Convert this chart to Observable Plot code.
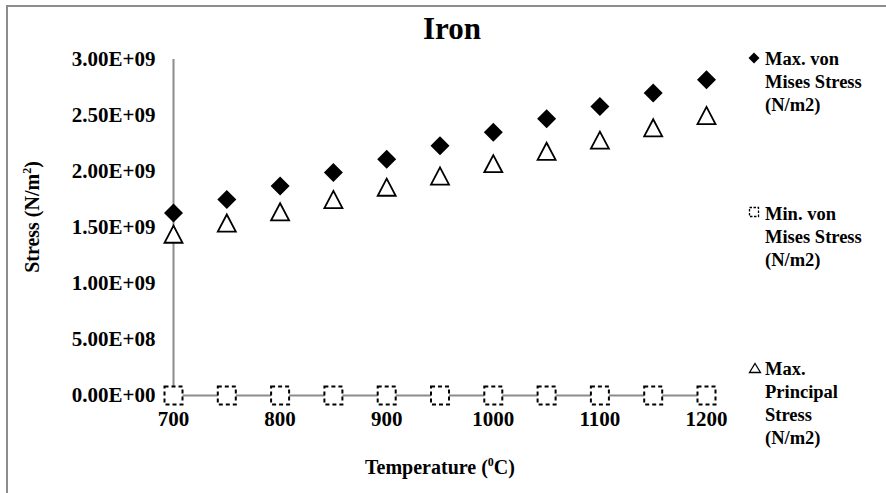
<!DOCTYPE html>
<html><head><meta charset="utf-8">
<script src="https://cdn.jsdelivr.net/npm/d3@7"></script>
<script src="https://cdn.jsdelivr.net/npm/@observablehq/plot@0.6"></script>
<style>
body{margin:0;background:#fff;}
#chart{position:relative;width:886px;height:493px;font-family:"Liberation Serif","Times New Roman",serif;font-weight:bold;color:#000;overflow:hidden;background:#fff}
#chart svg.plot{position:absolute;left:0;top:0}
.frame{position:absolute;left:6px;top:5px;width:884px;height:492px;border-left:2px solid #8c8c8c;border-top:2px solid #8c8c8c;box-sizing:border-box}
.title{position:absolute;left:452px;top:44px;transform:translate(-50%,-100%);font-size:31px;line-height:31px;white-space:nowrap}
.xtitle{position:absolute;left:440px;top:474px;transform:translate(-50%,-80%);font-size:20px;white-space:nowrap}
.ytitle{position:absolute;left:32px;top:217px;transform:translate(-50%,-50%) rotate(-90deg);font-size:20px;white-space:nowrap}
sup{font-size:0.6em;vertical-align:0.6em;line-height:0}
.leg{position:absolute;left:765px;font-size:18.5px;line-height:23px;white-space:nowrap}
svg.lm{position:absolute;left:0;top:0;pointer-events:none}
</style>
</head><body>
<div id="chart"></div>
<script>
const temps = [700, 750, 800, 850, 900, 950, 1000, 1050, 1100, 1150, 1200];
const maxVonMises = [1.63e9, 1.75e9, 1.87e9, 1.99e9, 2.11e9, 2.23e9, 2.35e9, 2.47e9, 2.58e9, 2.70e9, 2.82e9];
const minVonMises = [0, 0, 0, 0, 0, 0, 0, 0, 0, 0, 0];
const maxPrincipal = [1.44e9, 1.54e9, 1.64e9, 1.75e9, 1.86e9, 1.96e9, 2.07e9, 2.18e9, 2.28e9, 2.39e9, 2.50e9];
const xTicks = [700, 800, 900, 1000, 1100, 1200];
const yTicks = [0, 5e8, 1e9, 1.5e9, 2e9, 2.5e9, 3e9];
const seriesNames = ["Max. von Mises Stress (N/m2)", "Min. von Mises Stress (N/m2)", "Max. Principal Stress (N/m2)"];

const rows = (vals) => temps.map((t, i) => ({t, v: vals[i]}));

function sci(d) {
  if (d === 0) return "0.00E+00";
  const e = Math.floor(Math.log10(Math.abs(d)) + 1e-9);
  const m = d / Math.pow(10, e);
  return m.toFixed(2) + "E" + (e < 0 ? "-" : "+") + String(Math.abs(e)).padStart(2, "0");
}

const half = (size) => Math.sqrt(size / Math.PI);
const diamondSym = {draw(c, size){ const r = half(size); c.moveTo(0,-r); c.lineTo(r,0); c.lineTo(0,r); c.lineTo(-r,0); c.closePath(); }};
const squareSym = {draw(c, size){ const r = half(size); c.moveTo(-r,-r); c.lineTo(r,-r); c.lineTo(r,r); c.lineTo(-r,r); c.closePath(); }};
const triSym = {draw(c, size){ const r = half(size); c.moveTo(0,-r*0.95); c.lineTo(r,r*0.95); c.lineTo(-r,r*0.95); c.closePath(); }};

const plot = Plot.plot({
  width: 886, height: 493,
  marginLeft: 173, marginRight: 180, marginTop: 59, marginBottom: 98,
  style: {fontFamily: '"Liberation Serif","Times New Roman",serif', fontWeight: "bold", color: "#000", background: "transparent"},
  x: {domain: [700, 1200]},
  y: {domain: [0, 3e9]},
  marks: [
    Plot.axisY({ticks: yTicks, tickFormat: sci, tickSize: 0, tickPadding: 18, fontSize: 21, label: null}),
    Plot.axisX({ticks: xTicks, tickFormat: d => String(d), tickSize: 0, tickPadding: 16, fontSize: 21, label: null}),
    Plot.ruleX([700], {y1: 0, y2: 3e9, stroke: "#8c8c8c", strokeWidth: 2}),
    Plot.ruleY([0], {x1: 700, x2: 1200, stroke: "#8c8c8c", strokeWidth: 2}),
    Plot.dot(rows(maxVonMises), {x: "t", y: "v", symbol: diamondSym, r: 9.5, fill: "#000", stroke: "none"}),
    Plot.dot(rows(minVonMises), {x: "t", y: "v", symbol: squareSym, r: 9, fill: "#fff", stroke: "#000", strokeWidth: 2, strokeDasharray: "4,3"}),
    Plot.dot(rows(maxPrincipal), {x: "t", y: "v", symbol: triSym, r: 9, fill: "#fff", stroke: "#000", strokeWidth: 1.8})
  ]
});
plot.classList.add("plot");
const chart = document.getElementById("chart");
chart.appendChild(plot);

chart.insertAdjacentHTML("beforeend", `
<div class="frame"></div>
<div class="title">Iron</div>
<div class="xtitle">Temperature (<sup>0</sup>C)</div>
<div class="ytitle">Stress (N/m<sup>2</sup>)</div>
<div class="leg" style="top:48px"><div>Max. von</div><div>Mises Stress</div><div>(N/m2)</div></div>
<div class="leg" style="top:203px"><div>Min. von</div><div>Mises Stress</div><div>(N/m2)</div></div>
<div class="leg" style="top:358px"><div>Max.</div><div>Principal</div><div>Stress</div><div>(N/m2)</div></div>
<svg class="lm" width="886" height="493">
  <path d="M754,52.5 L759.5,58 L754,63.5 L748.5,58 Z" fill="#000"/>
  <rect x="749.5" y="207.5" width="9" height="9" fill="#fff" stroke="#000" stroke-width="1.3" stroke-dasharray="2.5,1.5"/>
  <path d="M755,363.5 L760.5,372.5 L749.5,372.5 Z" fill="#fff" stroke="#000" stroke-width="1.3"/>
</svg>`);
</script>
</body></html>
